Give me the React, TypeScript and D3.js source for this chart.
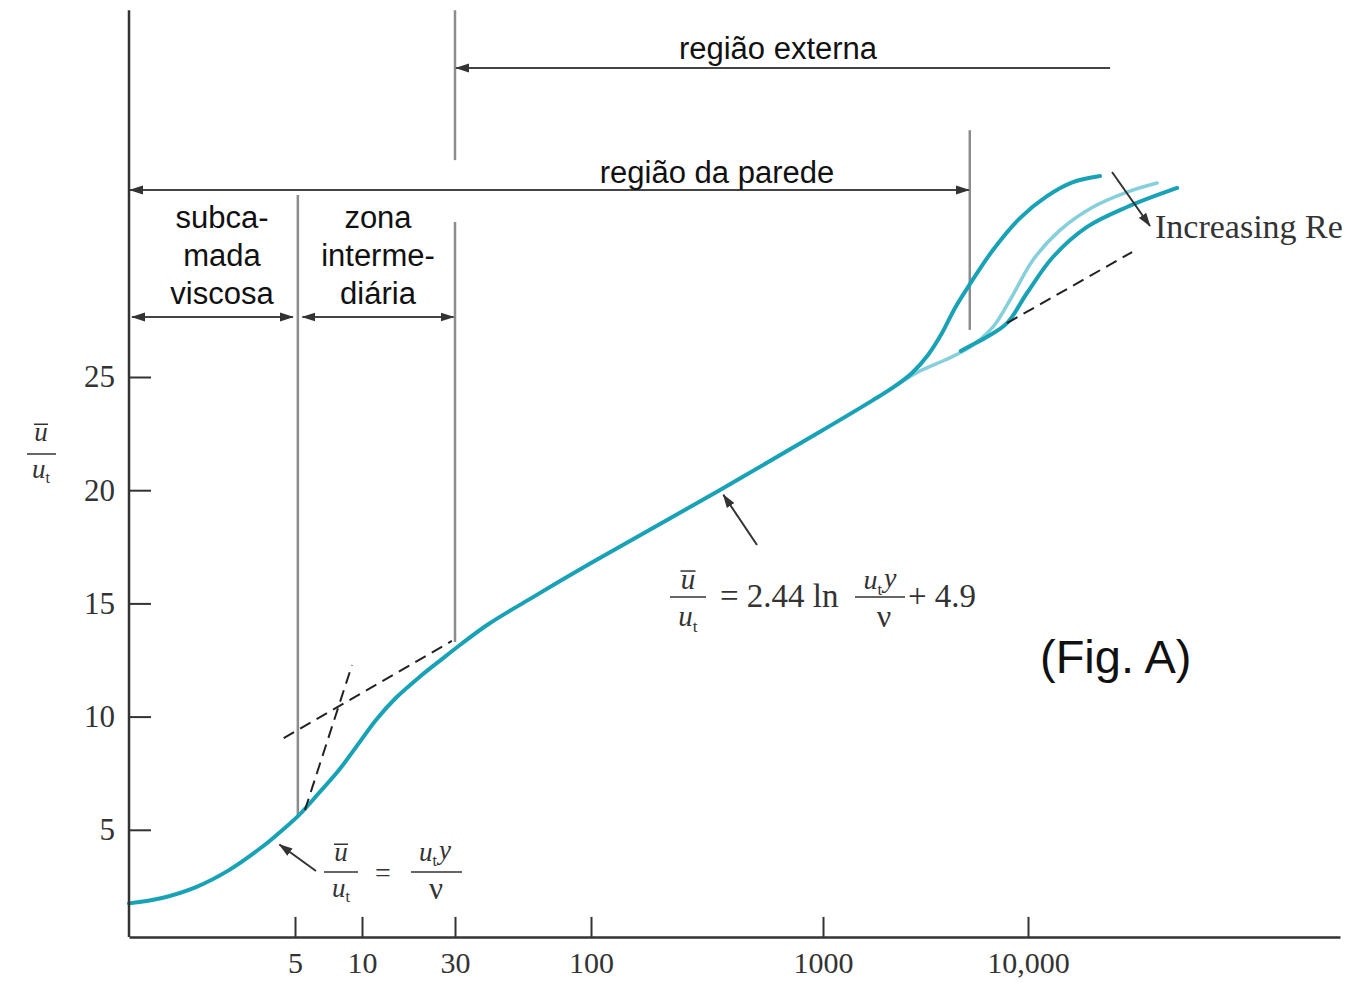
import { useRef, useEffect } from "react";
import * as d3 from "d3";

const WIDTH = 1352;
const HEIGHT = 983;

// y+ = u_t*y/nu and u+ = u/u_t
// trunk + lowest-Re branch (dark, upper)
const yPlusTrunk = [1, 1.377, 1.915, 2.637, 3.63, 4.28, 5.21, 6.41, 7.88, 9.69, 11.8, 14.9, 19.6, 25.7, 31.9, 40.4, 58.1, 100, 360, 1000, 1754, 2245, 2718, 3253, 3806, 4405, 5213, 6749, 9140, 12300, 16330, 21930];
const uPlusTrunk = [1.75, 1.99, 2.47, 3.22, 4.24, 4.86, 5.65, 6.63, 7.64, 8.83, 9.85, 10.82, 11.73, 12.54, 13.23, 14.09, 15.19, 16.78, 20.01, 22.66, 23.98, 24.6, 25.18, 25.97, 26.94, 28.05, 29.11, 30.61, 32.02, 32.99, 33.61, 33.88];
// middle Re branch (light)
const yPlusMid = [2245, 2972, 3938, 5213, 6749, 8171, 10560, 14190, 20320, 29450, 40850];
const uPlusMid = [24.6, 25.27, 25.75, 26.32, 27.21, 28.4, 30.17, 31.49, 32.51, 33.17, 33.57];
// highest Re branch (dark, lower)
const yPlusHigh = [4700, 5213, 6169, 7900, 9888, 13130, 19040, 29450, 50830];
const uPlusHigh = [26.15, 26.37, 26.72, 27.38, 28.71, 30.3, 31.63, 32.51, 33.35];

// dashed asymptotes
const yPlusViscDash = [5.54, 9.02];
const uPlusViscDash = [5.87, 12.28];
const yPlusLogDash = [4.48, 28.9];
const uPlusLogDash = [9.05, 13.34];
const yPlusOuterDash = [7900, 31110];
const uPlusOuterDash = [27.38, 30.52];

const xTicks = [5, 10, 30, 100, 1000, 10000];
const xTickLabels = ["5", "10", "30", "100", "1000", "10,000"];
const yTicks = [5, 10, 15, 20, 25];

// region limits in y+
const viscEdge = 5.15;
const bufferEdge = 30;
const wallEdge = 5200;

const TEAL = "#19a2b6";
const TEAL_LIGHT = "#86d0dc";
const SERIF = "'Liberation Serif', 'Times New Roman', serif";
const SANS = "'Liberation Sans', Arial, sans-serif";

const App = () => {
  const svgRef = useRef<SVGSVGElement>(null);

  useEffect(() => {
    const svg = d3.select(svgRef.current);
    svg.selectAll("*").remove();

    // hand drawn log axis: ticks are not evenly spaced, so piecewise log
    const xScale = d3
      .scaleLog()
      .domain([1, 5, 10, 30, 100, 1000, 10000, 300000])
      .range([129, 295, 362, 455, 591, 823, 1028, 1340]);
    const yScale = d3.scaleLinear().domain([0, 25]).range([943, 377]);

    const defs = svg.append("defs");
    defs
      .append("marker")
      .attr("id", "arr")
      .attr("markerUnits", "userSpaceOnUse")
      .attr("markerWidth", 14)
      .attr("markerHeight", 10)
      .attr("refX", 13)
      .attr("refY", 5)
      .attr("orient", "auto-start-reverse")
      .append("path")
      .attr("d", "M0,0.5 L14,5 L0,9.5 Z")
      .attr("fill", "#333");

    const gray = svg.append("g").attr("stroke", "#8c8c8c").attr("stroke-width", 2.5);
    const vline = (xv: number, u0: number, u1: number) =>
      gray
        .append("line")
        .attr("x1", xScale(xv))
        .attr("x2", xScale(xv))
        .attr("y1", yScale(u0))
        .attr("y2", yScale(u1));
    vline(viscEdge, 33.04, 5.6);
    vline(bufferEdge, 41.2, 34.58);
    vline(bufferEdge, 31.85, 13.3);
    vline(wallEdge, 35.9, 27.08);

    // region arrows
    const arrows = svg.append("g").attr("stroke", "#444").attr("stroke-width", 2);
    const harrow = (x0: number, x1: number, u: number, both: boolean) => {
      const l = arrows
        .append("line")
        .attr("x1", xScale(x0))
        .attr("x2", xScale(x1))
        .attr("y1", yScale(u))
        .attr("y2", yScale(u))
        .attr("marker-end", "url(#arr)");
      if (both) l.attr("marker-start", "url(#arr)");
    };
    harrow(24470, 30.3, 38.65, false);
    harrow(1.01, 5150, 33.26, true);
    harrow(1.03, 4.9, 27.65, true);
    harrow(5.4, 29.5, 27.65, true);

    const line = d3
      .line<[number, number]>()
      .x((d) => xScale(d[0]))
      .y((d) => yScale(d[1]))
      .curve(d3.curveCatmullRom.alpha(0.5));

    svg
      .append("path")
      .attr("d", line(d3.zip(yPlusMid, uPlusMid) as [number, number][]))
      .attr("fill", "none")
      .attr("stroke", TEAL_LIGHT)
      .attr("stroke-width", 3.5)
      .attr("stroke-linecap", "round");
    svg
      .append("path")
      .attr("d", line(d3.zip(yPlusHigh, uPlusHigh) as [number, number][]))
      .attr("fill", "none")
      .attr("stroke", TEAL)
      .attr("stroke-width", 4)
      .attr("stroke-linecap", "round");
    svg
      .append("path")
      .attr("d", line(d3.zip(yPlusTrunk, uPlusTrunk) as [number, number][]))
      .attr("fill", "none")
      .attr("stroke", TEAL)
      .attr("stroke-width", 4)
      .attr("stroke-linecap", "round");

    const dash = (xs: number[], us: number[]) =>
      svg
        .append("path")
        .attr("d", d3.line<[number, number]>().x((d) => xScale(d[0])).y((d) => yScale(d[1]))(d3.zip(xs, us) as [number, number][]))
        .attr("fill", "none")
        .attr("stroke", "#222")
        .attr("stroke-width", 2)
        .attr("stroke-dasharray", "12,7");
    dash(yPlusViscDash, uPlusViscDash);
    dash(yPlusLogDash, uPlusLogDash);
    dash(yPlusOuterDash, uPlusOuterDash);

    // axes
    const axisY = yScale(0.27);
    const xAxis = d3
      .axisBottom(xScale)
      .tickValues(xTicks)
      .tickFormat((d, i) => xTickLabels[i])
      .tickSize(-20)
      .tickSizeOuter(0)
      .tickPadding(15);
    const gx = svg.append("g").attr("transform", `translate(0, ${axisY})`).call(xAxis);
    gx.select(".domain").attr("stroke", "#333").attr("stroke-width", 2.5);
    gx.selectAll(".tick line").attr("stroke", "#333").attr("stroke-width", 2);
    gx.selectAll(".tick text").attr("font-family", SERIF).attr("font-size", 30).attr("fill", "#333");

    const yAxis = d3.axisLeft(yScale).tickValues(yTicks).tickSize(-22).tickSizeOuter(0).tickPadding(14);
    const gy = svg.append("g").attr("transform", `translate(${xScale(1)}, 0)`).call(yAxis);
    gy.select(".domain").remove();
    gy.selectAll(".tick line").attr("stroke", "#333").attr("stroke-width", 2);
    gy.selectAll(".tick text").attr("font-family", SERIF).attr("font-size", 31).attr("fill", "#333");
    svg
      .append("line")
      .attr("x1", xScale(1))
      .attr("x2", xScale(1))
      .attr("y1", axisY)
      .attr("y2", yScale(41.2))
      .attr("stroke", "#333")
      .attr("stroke-width", 2.5);

    // region labels
    const sans = (x: number, y: number, t: string, size = 31, anchor = "middle") =>
      svg
        .append("text")
        .attr("x", x)
        .attr("y", y)
        .attr("text-anchor", anchor)
        .attr("font-family", SANS)
        .attr("font-size", size)
        .attr("fill", "#111")
        .text(t);
    sans(778, 59, "região externa");
    sans(717, 183, "região da parede");
    ["subca-", "mada", "viscosa"].forEach((t, i) => sans(222, 228 + i * 38, t));
    ["zona", "interme-", "diária"].forEach((t, i) => sans(378, 228 + i * 38, t));
    sans(1040, 673, "(Fig. A)", 47, "start");

    // formula pieces
    const ubar = (cx: number, base: number, size: number) => {
      svg
        .append("text")
        .attr("x", cx)
        .attr("y", base)
        .attr("text-anchor", "middle")
        .attr("font-family", SERIF)
        .attr("font-style", "italic")
        .attr("font-size", size)
        .attr("fill", "#333")
        .text("u");
      svg
        .append("line")
        .attr("x1", cx - size * 0.26)
        .attr("x2", cx + size * 0.26)
        .attr("y1", base - size * 0.62)
        .attr("y2", base - size * 0.62)
        .attr("stroke", "#333")
        .attr("stroke-width", 1.5);
    };
    const ut = (cx: number, base: number, size: number, withY = false) => {
      const t = svg
        .append("text")
        .attr("x", cx)
        .attr("y", base)
        .attr("text-anchor", "middle")
        .attr("font-family", SERIF)
        .attr("font-size", size)
        .attr("fill", "#333");
      t.append("tspan").attr("font-style", "italic").text("u");
      t.append("tspan").attr("font-size", size * 0.6).attr("dy", size * 0.2).text("t");
      if (withY) t.append("tspan").attr("font-style", "italic").attr("dx", 2).attr("dy", -size * 0.28).text("y");
    };
    const bar = (x0: number, x1: number, y: number) =>
      svg.append("line").attr("x1", x0).attr("x2", x1).attr("y1", y).attr("y2", y).attr("stroke", "#333").attr("stroke-width", 1.5);
    const plain = (x: number, y: number, t: string, size: number, anchor = "start") =>
      svg
        .append("text")
        .attr("x", x)
        .attr("y", y)
        .attr("text-anchor", anchor)
        .attr("font-family", SERIF)
        .attr("font-size", size)
        .attr("fill", "#333")
        .text(t);

    // y label
    ubar(41, 441, 27);
    bar(27, 56, 454);
    ut(41, 478, 27);

    // viscous sublayer law
    ubar(341, 861, 27);
    bar(324, 358, 872);
    ut(341, 897, 27);
    plain(383, 882, "=", 28, "middle");
    ut(435, 861, 27, true);
    bar(411, 462, 872);
    plain(436, 899, "ν", 31, "middle");

    // log law
    ubar(688, 589, 29);
    bar(670, 706, 597);
    ut(688, 626, 29);
    plain(720, 607, "= 2.44 ln", 33);
    ut(880, 589, 28, true);
    bar(855, 905, 597);
    plain(884, 627, "ν", 32, "middle");
    plain(908, 607, "+ 4.9", 33);

    // pointer arrows
    const pointer = (x0: number, y0: number, x1: number, y1: number) =>
      svg
        .append("line")
        .attr("x1", x0)
        .attr("y1", y0)
        .attr("x2", x1)
        .attr("y2", y1)
        .attr("stroke", "#333")
        .attr("stroke-width", 2)
        .attr("marker-end", "url(#arr)");
    pointer(316, 871, xScale(4.3), yScale(4.35));
    pointer(757, 545, xScale(372), yScale(19.8));
    pointer(1112, 172, 1150, 226);

    plain(1155, 238, "Increasing Re", 34);
  }, []);

  return (
    <svg
      ref={svgRef}
      width={WIDTH}
      height={HEIGHT}
      style={{ position: "absolute", left: 0, top: 0, background: "#fff" }}
    ></svg>
  );
};

export default App;
